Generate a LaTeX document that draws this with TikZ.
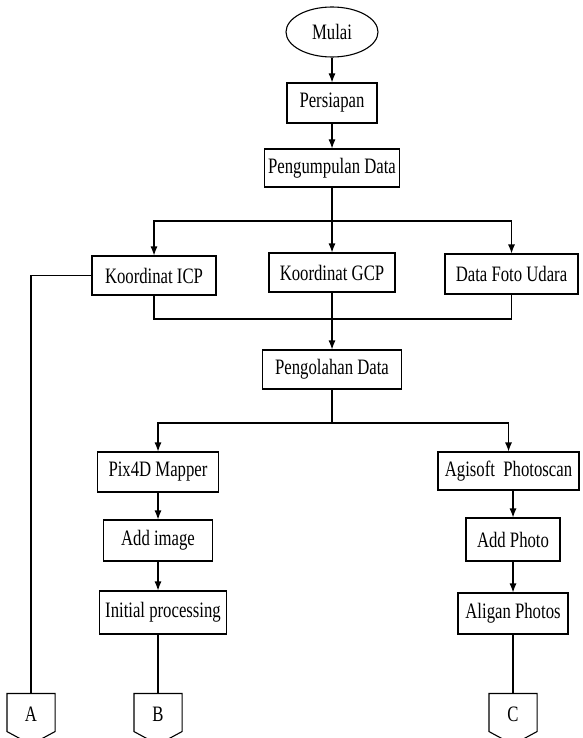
\documentclass[tikz,border=0pt]{standalone}
\usepackage{fontspec}
\setmainfont{Liberation Serif}[FakeStretch=0.76]
\usetikzlibrary{shapes.geometric,arrows.meta}

\begin{document}
\begin{tikzpicture}[x = 1pt, y = -1pt, line width = 1.1pt,
  box/.style = {draw, inner sep = 0pt, font = \fontsize{22}{24}\selectfont},
  conn/.style = {inner sep = 0pt, minimum width = 47pt, minimum height = 40pt, font = \fontsize{22}{24}\selectfont},
  >={Latex[length = 9pt, width = 7pt]}]
\useasboundingbox (0,0) rectangle (582,738);
\node [box, ellipse, minimum width = 92pt, minimum height = 50pt] (mulai) at (332,32) {Mulai};
\node [box, minimum width = 90pt, minimum height = 40pt] (persiapan) at (332,103) {Persiapan};
\node [box, minimum width = 135pt, minimum height = 38pt] (kumpul) at (332,168) {Pengumpulan Data};
\node [box, minimum width = 124pt, minimum height = 39pt] (icp) at (154,275.5) {Koordinat ICP};
\node [box, minimum width = 126pt, minimum height = 39pt] (gcp) at (332,272.5) {Koordinat GCP};
\node [box, minimum width = 133pt, minimum height = 40pt] (foto) at (511.5,274) {Data Foto Udara};
\node [box, minimum width = 139pt, minimum height = 39pt] (olah) at (332,369.5) {Pengolahan Data};
\node [box, minimum width = 121pt, minimum height = 40pt] (pix) at (158,472) {Pix4D Mapper};
\node [box, minimum width = 141pt, minimum height = 38pt] (agi) at (508.5,471) {Agisoft\ \ Photoscan};
\node [box, minimum width = 109pt, minimum height = 41pt] (addimg) at (158,540.5) {Add image};
\node [box, minimum width = 127pt, minimum height = 43pt] (init) at (163,612.5) {Initial processing};
\node [box, minimum width = 94pt, minimum height = 43pt] (addph) at (513,539.5) {Add Photo};
\node [box, minimum width = 110pt, minimum height = 41pt] (aligan) at (513,613.5) {Aligan Photos};
\node [conn] (A) at (31,714) {A};
\node [conn] (B) at (158,714) {B};
\node [conn] (C) at (513,714) {C};
\foreach \n in {A,B,C}
  \draw (\n.north west) -- (\n.north east) -- ([yshift = 3pt]\n.south east) -- ([yshift = -10pt]\n.south) -- ([yshift = 3pt]\n.south west) -- cycle;
\coordinate (bus1) at (332,221);
\coordinate (bus2) at (332,319);
\coordinate (bus3) at (332,423);
\draw[->] (mulai) -- (persiapan);
\draw[->] (persiapan) -- (kumpul);
\draw (kumpul) -- (bus1);
\draw[->] (bus1) -| (icp.north);
\draw[->] (bus1) -- (gcp.north);
\draw[->] (bus1) -| (foto.north);
\draw (icp.south) |- (bus2) -| (foto.south);
\draw[->] (gcp) -- (olah);
\draw (olah) -- (bus3);
\draw[->] (bus3) -| (pix.north);
\draw[->] (bus3) -| (agi.north);
\draw[->] (pix) -- (addimg);
\draw[->] (addimg) -- (addimg |- init.north);
\draw (B.north |- init.south) -- (B.north);
\draw[->] (agi.south -| addph.north) -- (addph);
\draw[->] (addph) -- (aligan);
\draw (aligan) -- (C);
\draw (icp.west) -| (A.north); % ICP goes to A
\end{tikzpicture}
\end{document}
